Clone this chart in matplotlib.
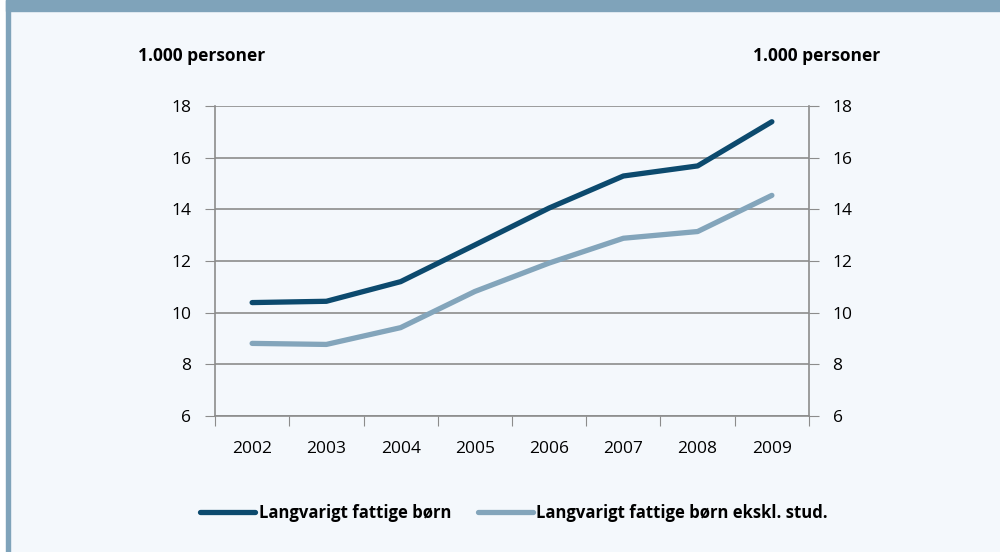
import matplotlib.pyplot as plt
from matplotlib.patches import Rectangle

plt.rcParams['font.family'] = ['Open Sans', 'DejaVu Sans']

years = ["2002", "2003", "2004", "2005", "2006", "2007", "2008", "2009"]
fattige = [10.39, 10.44, 11.2, 12.62, 14.05, 15.29, 15.68, 17.39]
fattige_ekskl = [8.81, 8.77, 9.42, 10.82, 11.92, 12.88, 13.14, 14.54]

dark = "#0c4a6e"
light = "#83a5bb"
grid = "#8c8c8c"
bg = "#f4f8fc"
band = "#7fa3ba"

fig = plt.figure(figsize=(10, 5.52), dpi=100, facecolor=bg)

# frame: white strip, left border and top band
fig.patches.append(Rectangle((0, 0), 0.006, 1, transform=fig.transFigure, color="white", zorder=0))
fig.patches.append(Rectangle((0.006, 0), 0.004, 1, transform=fig.transFigure, color=band, zorder=0))
fig.patches.append(Rectangle((0.006, 1 - 11 / 552), 0.994, 11 / 552, transform=fig.transFigure, color=band, zorder=0))

ax = fig.add_axes([0.215, 0.2464, 0.594, 0.5616])
ax.set_facecolor(bg)

x = [i + 0.5 for i in range(len(years))]
ax.plot(x, fattige, color=dark, lw=3.8, solid_capstyle="round", label="Langvarigt fattige børn", zorder=3)
ax.plot(x, fattige_ekskl, color=light, lw=3.8, solid_capstyle="round", label="Langvarigt fattige børn ekskl. stud.", zorder=3)

ax.set_xlim(0, len(years))
ax.set_ylim(6, 18)
ax.set_yticks(range(6, 19, 2))
ax.set_xticks(range(len(years) + 1))
ax.set_xticklabels([])
ax.set_xticks(x, minor=True)
ax.set_xticklabels(years, minor=True, fontsize=12.5)
ax.tick_params(axis="x", which="major", length=7, color=grid, direction="out")
ax.tick_params(axis="x", which="minor", length=0, pad=18)
ax.tick_params(axis="y", length=7, color=grid, labelsize=12.5, pad=10,
               left=True, right=True, labelleft=True, labelright=True)

ax.grid(axis="y", color=grid, lw=1.2)
ax.set_axisbelow(True)
for side in ["left", "right", "bottom"]:
    ax.spines[side].set_color(grid)
    ax.spines[side].set_linewidth(1.2)
ax.spines["top"].set_visible(False)

fig.text(0.138, 1 - 56 / 552, "1.000 personer", fontsize=12.5, fontweight="bold", va="center", ha="left")
fig.text(0.880, 1 - 56 / 552, "1.000 personer", fontsize=12.5, fontweight="bold", va="center", ha="right")

fig.legend(loc="center", bbox_to_anchor=(0.514, 1 - 513 / 552), ncol=2, frameon=False,
           prop={"size": 12, "weight": "bold"}, handlelength=3.3, handletextpad=0.2,
           columnspacing=1.6)

fig.savefig("out.png", dpi=100, facecolor=bg)
